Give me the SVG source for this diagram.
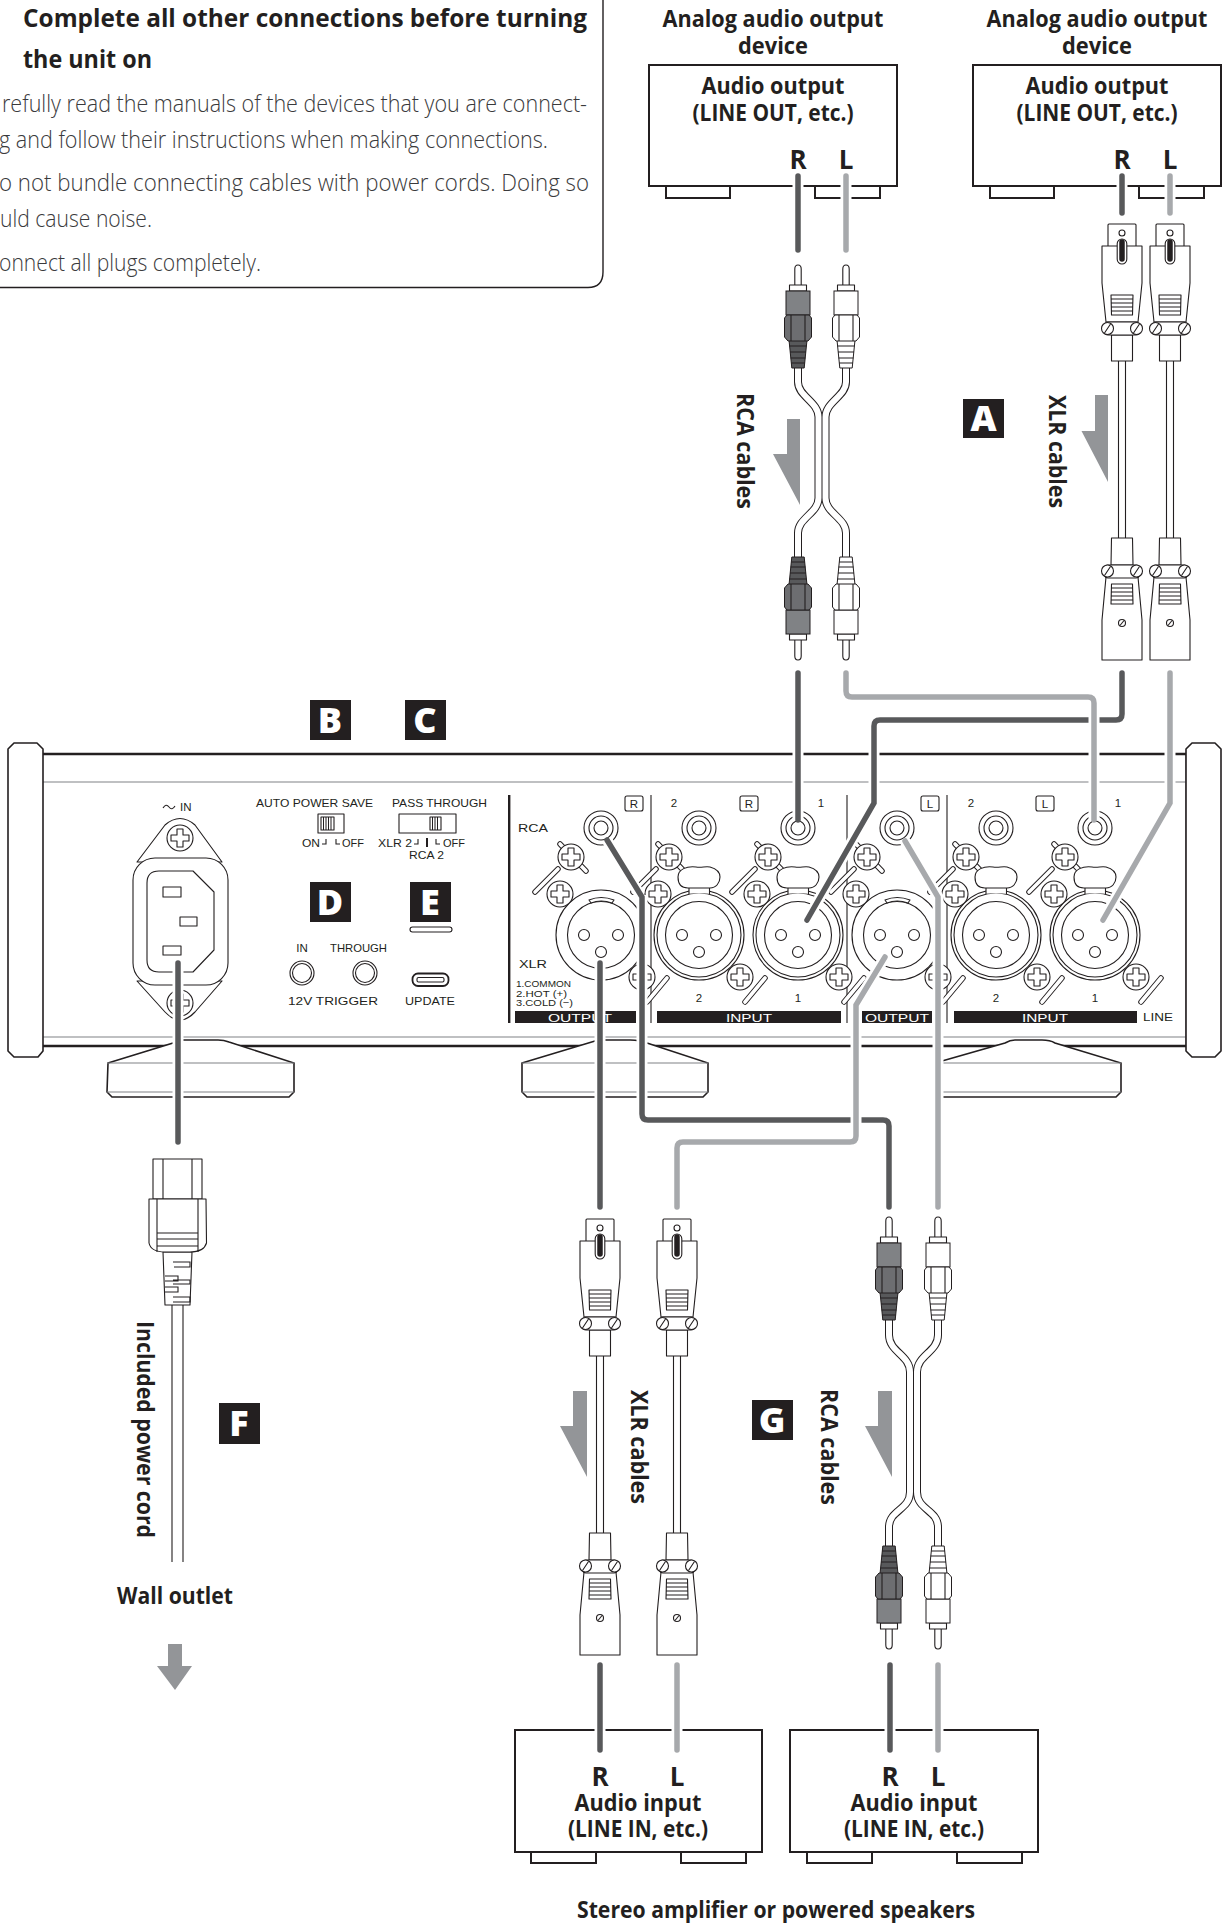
<svg xmlns="http://www.w3.org/2000/svg" xmlns:xlink="http://www.w3.org/1999/xlink" width="1223" height="1923" viewBox="0 0 1223 1923">
<style>
text{font-family:"Open Sans","Noto Sans","Liberation Sans",sans-serif;fill:#231f20}
.b{font-weight:700;font-size:23.500px}
.rl{font-weight:700;font-size:26px}
.c{text-anchor:middle}
.bd{font-weight:700;font-size:24.500px}
.n{font-weight:300;font-size:23px;fill:#3a3a3c}
.p{font-family:"Liberation Sans",Arial,sans-serif;font-size:11.500px}
.s{font-family:"Liberation Sans",Arial,sans-serif;font-size:9.500px}
.bdg{fill:#231f20}
.bl{font-weight:800;font-size:36px;fill:#fff;text-anchor:middle}
.ln{fill:#fff;stroke:#231f20;stroke-width:1.1;stroke-linejoin:round}
.nf{fill:none;stroke:#231f20;stroke-width:1.1}
.box{fill:#fff;stroke:#231f20;stroke-width:2}
.th{fill:none;stroke:#231f20;stroke-width:2.4}
.gr{fill:none;stroke:#808285;stroke-width:1.2}
.ar{fill:#939598}
.halo{fill:none;stroke:#fff;stroke-width:11}
.dk{fill:none;stroke:#58595b;stroke-width:5.5;stroke-linecap:round}
.lt{fill:none;stroke:#a7a9ac;stroke-width:5.5;stroke-linecap:round}
.co{fill:none;stroke:#231f20;stroke-width:8}
.ci{fill:none;stroke:#fff;stroke-width:6}
.rD{--b:#808285;--h:#6d6e71;--r:#58595b}
.rL{--b:#fff;--h:#fff;--r:#fff}
.vb{fill:var(--b);stroke:#231f20;stroke-width:1}
.vh{fill:var(--h);stroke:#231f20;stroke-width:1}
.vr{fill:var(--r);stroke:#231f20;stroke-width:1}
.co2{fill:none;stroke:#231f20;stroke-width:5.5;stroke-linecap:round}
.ci2{fill:none;stroke:#fff;stroke-width:3.6;stroke-linecap:round}
</style>
<defs>
<g id="screw"><circle r="13" class="ln"/><path class="ln" d="M-3,-9H3V-3H9V3H3V9H-3V3H-9V-3H-3Z"/></g>
<g id="jack"><circle r="17" class="ln"/><circle r="12" class="ln"/><circle r="7" class="ln"/></g>
<g id="xlrbase">
<line class="co2" x1="-66" y1="-43" x2="-43" y2="-66"/><line class="ci2" x1="-66" y1="-43" x2="-43" y2="-66"/>
<line class="co2" x1="46" y1="67" x2="66" y2="43"/><line class="ci2" x1="46" y1="67" x2="66" y2="43"/>
<line class="co2" x1="-41" y1="-91" x2="-15" y2="-64"/><line class="ci2" x1="-41" y1="-91" x2="-15" y2="-64"/>
</g>
<g id="xlrpins"><circle cx="-17" r="5.500" class="ln"/><circle cx="17" r="5.500" class="ln"/><circle cy="17" r="5.500" class="ln"/></g>
<g id="xlrOut">
<use href="#xlrbase"/>
<circle r="45" class="ln"/><circle r="33.500" class="ln"/>
<path class="ln" d="M-12,-35Q0,-40 13,-35L11,-32Q0,-36 -10,-32Z"/>
<use href="#xlrpins"/>
<use href="#screw" x="-30" y="-78"/><use href="#screw" x="-41" y="-41"/><use href="#screw" x="41" y="42"/>
</g>
<g id="xlrIn">
<use href="#xlrbase"/>
<circle r="45" class="ln"/><circle r="42" class="ln"/><circle r="33.500" class="ln"/>
<rect x="-10" y="-49" width="20.500" height="7.500" fill="#fff"/>
<path class="nf" d="M-10,-47V-41M10.500,-47V-41"/>
<path class="ln" d="M-11,-47C-19,-47 -21,-53 -21,-58C-21,-66 -12,-69 -3,-68C3,-67 6,-69 11,-68C18,-66 21,-62 21,-58C21,-52 17,-47 11,-47Z"/>
<use href="#xlrpins"/>
<use href="#screw" x="-30" y="-78"/><use href="#screw" x="-41" y="-41"/><use href="#screw" x="41" y="42"/>
</g>
<g id="rca">
<path class="ln" d="M-3.200,286V269Q-3.200,265 0,265Q3.200,265 3.200,269V286Z"/>
<rect class="ln" x="-8.500" y="285" width="17" height="6"/>
<rect class="vb" x="-12" y="291" width="24" height="24"/>
<path class="vr" d="M-9,340H9L6.200,368H-6.200Z"/>
<path class="nf" d="M-8.600,346H8.600M-8,352H8M-7.400,358H7.400M-6.800,363H6.800"/>
<path class="vh" d="M-11,315H11L13.500,318V337L10,341H-10L-13.500,337V318Z"/>
<path class="nf" d="M-7,315V341M7,315V341"/>
</g>
<g id="xlrT">
<rect class="ln" x="-14" y="224" width="28" height="23" rx="1"/>
<circle class="ln" cy="233" r="3"/>
<path class="ln" d="M-20,246H20V283L16,322H-16L-20,283Z"/>
<rect class="ln" x="-4.800" y="239" width="9.600" height="25" rx="4.800" style="fill:#fff"/>
<line x1="0" y1="242" x2="0" y2="259" stroke="#231f20" stroke-width="5.500" stroke-linecap="round"/>
<path class="ln" d="M-11,295H11L10.500,315H-10.500Z"/>
<path class="nf" d="M-11,299H11M-11,303H11M-11,307H11M-11,311H11"/>
<path class="ln" d="M-10.500,335L-10.500,361H10.500L10.500,335Z"/>
<rect class="ln" x="-17" y="322" width="34" height="13" rx="3"/>
<circle class="ln" cx="-14.500" cy="328.500" r="6"/><circle class="ln" cx="14.500" cy="328.500" r="6"/>
<path class="nf" d="M-17.500,333L-11.500,324M11.500,333L17.500,324"/>
<path class="nf" d="M-3.500,361V538M3.500,361V538"/>
<path class="ln" d="M-10.500,538H10.500L11,565H-11Z"/>
<path class="ln" d="M-16,577H16L20,620V660H-20V620Z"/>
<path class="ln" d="M-10.500,584H10.500L11,604H-11Z"/>
<path class="nf" d="M-11,588H11M-11,592H11M-11,596H11M-11,600H11"/>
<rect class="ln" x="-17" y="565" width="34" height="13" rx="3"/>
<circle class="ln" cx="-14.500" cy="571" r="6"/><circle class="ln" cx="14.500" cy="571" r="6"/>
<path class="nf" d="M-17.500,575.500L-11.500,566.500M11.500,575.500L17.500,566.500"/>
<circle class="ln" cy="623" r="3.500"/><path class="nf" d="M-2,625.500L2,620.500"/>
</g>
</defs>
<rect width="1223" height="1923" fill="#fff"/>

<g id="notice">
<path d="M-5,287.500H588Q603,287.500 603,272V-5" fill="none" stroke="#231f20" stroke-width="1.400"/>
<text class="bd" x="23" y="27" textLength="564" lengthAdjust="spacingAndGlyphs">Complete all other connections before turning</text>
<text class="bd" x="23" y="68" textLength="129" lengthAdjust="spacingAndGlyphs">the unit on</text>
<text class="n" x="2" y="112" textLength="585" lengthAdjust="spacingAndGlyphs">refully read the manuals of the devices that you are connect-</text>
<text class="n" x="-1" y="148" textLength="549" lengthAdjust="spacingAndGlyphs">g and follow their instructions when making connections.</text>
<text class="n" x="-1" y="191" textLength="590" lengthAdjust="spacingAndGlyphs">o not bundle connecting cables with power cords. Doing so</text>
<text class="n" x="0" y="227" textLength="152" lengthAdjust="spacingAndGlyphs">uld cause noise.</text>
<text class="n" x="-1" y="271" textLength="262" lengthAdjust="spacingAndGlyphs">onnect all plugs completely.</text>
</g>

<g id="output-device-1">
<rect class="box" x="666" y="186" width="64" height="12"/><rect class="box" x="815" y="186" width="65" height="12"/>
<rect class="box" x="649" y="65" width="248" height="121"/>
<text class="b c" x="773" y="27" textLength="221" lengthAdjust="spacingAndGlyphs">Analog audio output</text>
<text class="b c" x="773" y="54" textLength="70" lengthAdjust="spacingAndGlyphs">device</text>
<text class="b c" x="773" y="94" textLength="143" lengthAdjust="spacingAndGlyphs">Audio output</text>
<text class="b c" x="773" y="121" textLength="161" lengthAdjust="spacingAndGlyphs">(LINE OUT, etc.)</text>
<text class="rl c" x="798" y="169">R</text><text class="rl c" x="846" y="169">L</text>
</g>
<g id="output-device-2">
<rect class="box" x="990" y="186" width="64" height="12"/><rect class="box" x="1139" y="186" width="65" height="12"/>
<rect class="box" x="973" y="65" width="248" height="121"/>
<text class="b c" x="1097" y="27" textLength="221" lengthAdjust="spacingAndGlyphs">Analog audio output</text>
<text class="b c" x="1097" y="54" textLength="70" lengthAdjust="spacingAndGlyphs">device</text>
<text class="b c" x="1097" y="94" textLength="143" lengthAdjust="spacingAndGlyphs">Audio output</text>
<text class="b c" x="1097" y="121" textLength="161" lengthAdjust="spacingAndGlyphs">(LINE OUT, etc.)</text>
<text class="rl c" x="1122" y="169">R</text><text class="rl c" x="1170" y="169">L</text>
</g>

<g id="rca-cables-in">
<path class="co" d="M798,366V382C798,396 818.500,402 818.500,417V498C818.500,513 798,518 798,533V559"/>
<path class="co" d="M846,366V382C846,396 825.500,402 825.500,417V498C825.500,513 846,518 846,533V559"/>
<path class="ci" d="M798,366V382C798,396 818.500,402 818.500,417V498C818.500,513 798,518 798,533V559"/>
<path class="ci" d="M846,366V382C846,396 825.500,402 825.500,417V498C825.500,513 846,518 846,533V559"/>
<use href="#rca" class="rD" transform="translate(798,0)"/><use href="#rca" class="rL" transform="translate(846,0)"/>
<use href="#rca" class="rD" transform="translate(798,925) scale(1,-1)"/><use href="#rca" class="rL" transform="translate(846,925) scale(1,-1)"/>
<polygon class="ar" points="787,419 800,419 800,505 773,454 787,454"/>
<text class="b" transform="translate(737,393) rotate(90)" textLength="116" lengthAdjust="spacingAndGlyphs">RCA cables</text>
</g>
<g id="xlr-cables-in">
<use href="#xlrT" transform="translate(1122,0)"/><use href="#xlrT" transform="translate(1170,0)"/>
<polygon class="ar" points="1095,395 1108,395 1108,482 1081.500,431 1095,431"/>
<text class="b" transform="translate(1049,395) rotate(90)" textLength="113" lengthAdjust="spacingAndGlyphs">XLR cables</text>
</g>

<g id="badges">
<g id="badge-A"><rect class="bdg" x="963" y="399" width="41" height="39"/><text class="bl" x="983.500" y="431">A</text></g>
<g id="badge-B"><rect class="bdg" x="310" y="700" width="41" height="40"/><text class="bl" x="330" y="733">B</text></g>
<g id="badge-C"><rect class="bdg" x="405" y="700" width="41" height="40"/><text class="bl" x="425" y="733">C</text></g>
<g id="badge-D"><rect class="bdg" x="310" y="882" width="41" height="40"/><text class="bl" x="330" y="915">D</text></g>
<g id="badge-E"><rect class="bdg" x="410" y="882" width="41" height="40"/><text class="bl" x="430" y="915">E</text><rect class="ln" x="410" y="927" width="42" height="5" rx="2.500"/></g>
<g id="badge-F"><rect class="bdg" x="219" y="1403" width="41" height="41"/><text class="bl" x="239" y="1436">F</text></g>
<g id="badge-G"><rect class="bdg" x="752" y="1400" width="41" height="40"/><text class="bl" x="772" y="1433">G</text></g>
</g>

<g id="unit">
<path class="gr" d="M43,782H1186M43,1037H1186M1186,754V1046"/>
<path class="th" d="M43,754H1186M43,1046H1186"/>
<path class="ln" style="stroke-width:1.600" d="M14,743H37L43,749V1051L38,1057H14L8,1051V749Z"/>
<path class="ln" style="stroke-width:1.600" d="M1192,743H1215L1221,749V1051L1215,1057H1192L1186,1051V749Z"/>
<g id="feet">
<path class="box" style="stroke-width:1.600" d="M108,1063L173,1043Q178,1040 182,1040H218Q224,1040 229,1042L294,1063V1092L289,1097H112L107,1092Z"/>
<path class="box" style="stroke-width:1.600" d="M522,1063L595,1041Q600,1040 605,1040H630Q640,1040 647,1043L708,1063V1092L703,1097H527L522,1092Z"/>
<path class="box" style="stroke-width:1.600" d="M935,1063L1005,1043Q1010,1040 1015,1040H1042Q1050,1040 1055,1043L1121,1063V1092L1116,1097H940L935,1092Z"/>
<path class="gr" d="M107,1063H294M107,1092H294M522,1063H708M522,1092H708M935,1063H1121M935,1092H1121"/>
</g>
<g id="ac-inlet">
<path class="ln" d="M137,862L165,825Q180,812 195,825L222,862ZM137,981L165,1012Q180,1028 195,1012L222,981Z"/>
<use href="#screw" x="180" y="838"/>
<use href="#screw" x="180" y="1003"/>
<rect class="ln" x="133" y="858" width="95" height="127" rx="22"/>
<path class="ln" d="M159,871H193L214,892V950L193,972H159Q147,972 147,960V883Q147,871 159,871Z"/>
<rect class="ln" x="163" y="887" width="18" height="10"/><rect class="ln" x="180" y="917" width="17" height="9"/><rect class="ln" x="163" y="946" width="18" height="9"/>
<path class="nf" d="M163,808Q166,803 169,807T175,806"/>
<text class="p" x="180" y="811">IN</text>
</g>
<g id="panel-switches">
<text class="p" x="256" y="807" textLength="117" lengthAdjust="spacingAndGlyphs">AUTO POWER SAVE</text>
<text class="p" x="392" y="807" textLength="95" lengthAdjust="spacingAndGlyphs">PASS THROUGH</text>
<rect class="ln" x="318" y="814" width="26" height="19"/>
<rect class="ln" x="321" y="817" width="13" height="13"/><path d="M323.500,817V830M326,817V830M328.500,817V830M331,817V830" stroke="#231f20" fill="none" stroke-width="1"/>
<rect class="ln" x="399" y="814" width="57" height="19"/>
<rect class="ln" x="430" y="817" width="11" height="13"/><path d="M432.500,817V830M435,817V830M437.500,817V830" stroke="#231f20" fill="none" stroke-width="1"/>
<text class="p" x="302" y="847" textLength="18" lengthAdjust="spacingAndGlyphs">ON</text>
<text class="p" x="342" y="847" textLength="22" lengthAdjust="spacingAndGlyphs">OFF</text>
<path class="nf" d="M326,839V844H322M336,839V844H340"/>
<text class="p" x="378" y="847" textLength="34" lengthAdjust="spacingAndGlyphs">XLR 2</text>
<path class="nf" d="M418,839V844H414M436,839V844H440"/><rect x="426" y="838" width="2" height="9" fill="#231f20"/>
<text class="p" x="443" y="847" textLength="22" lengthAdjust="spacingAndGlyphs">OFF</text>
<text class="p" x="409" y="859" textLength="35" lengthAdjust="spacingAndGlyphs">RCA 2</text>
</g>
<g id="panel-trigger">
<text class="p c" x="302" y="952">IN</text>
<text class="p" x="330" y="952" textLength="57" lengthAdjust="spacingAndGlyphs">THROUGH</text>
<circle class="ln" cx="302" cy="973" r="12"/><circle class="ln" cx="302" cy="973" r="9.500"/>
<circle class="ln" cx="365" cy="973" r="12"/><circle class="ln" cx="365" cy="973" r="9.500"/>
<rect x="412.500" y="973.500" width="36" height="12.500" rx="5.500" fill="#fff" stroke="#231f20" stroke-width="1.800"/><rect class="ln" x="417" y="977.500" width="27" height="4.500" rx="1.500"/>
<text class="p" x="288" y="1005" textLength="90" lengthAdjust="spacingAndGlyphs">12V TRIGGER</text>
<text class="p" x="405" y="1005" textLength="50" lengthAdjust="spacingAndGlyphs">UPDATE</text>
</g>
<g id="panel-audio">
<rect x="508" y="795" width="2.400" height="228" fill="#231f20"/>
<path class="nf" d="M651,795V1023M847,795V1023M947,795V1023"/>
<text class="p" x="518" y="832" textLength="30" lengthAdjust="spacingAndGlyphs">RCA</text>
<text class="p" x="519" y="968" textLength="28" lengthAdjust="spacingAndGlyphs">XLR</text>
<text class="s" x="516" y="987" textLength="55" lengthAdjust="spacingAndGlyphs">1.COMMON</text>
<text class="s" x="516" y="996.500" textLength="51" lengthAdjust="spacingAndGlyphs">2.HOT (+)</text>
<text class="s" x="516" y="1006" textLength="57" lengthAdjust="spacingAndGlyphs">3.COLD (−)</text>
<use href="#jack" x="601" y="828"/><use href="#jack" x="699" y="828"/><use href="#jack" x="798" y="828"/>
<use href="#jack" x="897" y="828"/><use href="#jack" x="996" y="828"/><use href="#jack" x="1095" y="828"/>
<use href="#xlrOut" x="601" y="935"/><use href="#xlrIn" x="699" y="935"/><use href="#xlrIn" x="798" y="935"/>
<use href="#xlrOut" x="897" y="935"/><use href="#xlrIn" x="996" y="935"/><use href="#xlrIn" x="1095" y="935"/>
<rect class="ln" x="625" y="796" width="18" height="15" rx="2"/><text class="p c" x="634" y="808">R</text>
<rect class="ln" x="740" y="796" width="18" height="15" rx="2"/><text class="p c" x="749" y="808">R</text>
<rect class="ln" x="921" y="796" width="18" height="15" rx="2"/><text class="p c" x="930" y="808">L</text>
<rect class="ln" x="1036" y="796" width="18" height="15" rx="2"/><text class="p c" x="1045" y="808">L</text>
<text class="p c" x="674" y="807">2</text><text class="p c" x="821" y="807">1</text><text class="p c" x="971" y="807">2</text><text class="p c" x="1118" y="807">1</text>
<text class="p c" x="699" y="1002">2</text><text class="p c" x="798" y="1002">1</text><text class="p c" x="996" y="1002">2</text><text class="p c" x="1095" y="1002">1</text>
<rect class="bdg" x="515" y="1011" width="121" height="12"/><text class="p c" style="fill:#fff" x="580" y="1021.500" textLength="64" lengthAdjust="spacingAndGlyphs">OUTPUT</text>
<rect class="bdg" x="657" y="1011" width="184" height="12"/><text class="p c" style="fill:#fff" x="749" y="1021.500" textLength="46" lengthAdjust="spacingAndGlyphs">INPUT</text>
<rect class="bdg" x="862" y="1011" width="70" height="12"/><text class="p c" style="fill:#fff" x="897" y="1021.500" textLength="64" lengthAdjust="spacingAndGlyphs">OUTPUT</text>
<rect class="bdg" x="954" y="1011" width="183" height="12"/><text class="p c" style="fill:#fff" x="1045" y="1021.500" textLength="46" lengthAdjust="spacingAndGlyphs">INPUT</text>
<text class="p" x="1143" y="1021" textLength="30" lengthAdjust="spacingAndGlyphs">LINE</text>
</g>
</g>

<g id="power-cord">
<rect class="ln" x="153" y="1159" width="49" height="40"/><path class="nf" d="M163,1159V1199M192,1159V1199"/>
<path class="nf" d="M172,1305V1562M183,1305V1562"/>
<path class="ln" d="M163,1252H192L190,1305H165Z"/>
<path class="nf" d="M173,1262H190V1267H174M165,1276H178V1281H165M173,1280H190V1284H173M165,1287H178V1292H165M173,1297H190V1302H173"/>
<path class="ln" d="M149,1199H206L206.500,1243Q204,1252 190,1252H165Q151,1252 149,1243Z"/>
<path class="nf" d="M157,1199V1252M198,1199V1252M157,1233H198M157,1239H198M157,1246H198"/>
<text class="b" transform="translate(137,1321) rotate(90)" textLength="217" lengthAdjust="spacingAndGlyphs">Included power cord</text>
<text class="b c" x="175" y="1604" textLength="116" lengthAdjust="spacingAndGlyphs">Wall outlet</text>
<polygon class="ar" points="168,1644 182,1644 182,1666 192,1666 175,1690 157,1666 168,1666"/>
</g>

<g id="xlr-cables-out">
<use href="#xlrT" transform="translate(600,995)"/><use href="#xlrT" transform="translate(677,995)"/>
<polygon class="ar" points="573,1391 587,1391 587,1477 560,1426 573,1426"/>
<text class="b" transform="translate(631,1390) rotate(90)" textLength="114" lengthAdjust="spacingAndGlyphs">XLR cables</text>
</g>
<g id="rca-cables-out">
<path class="co" d="M889,1317V1335C889,1352 910,1355 910,1372V1492C910,1510 889,1510 889,1527V1548"/>
<path class="co" d="M938,1317V1335C938,1352 917,1355 917,1372V1492C917,1510 938,1510 938,1527V1548"/>
<path class="ci" d="M889,1317V1335C889,1352 910,1355 910,1372V1492C910,1510 889,1510 889,1527V1548"/>
<path class="ci" d="M938,1317V1335C938,1352 917,1355 917,1372V1492C917,1510 938,1510 938,1527V1548"/>
<use href="#rca" class="rD" transform="translate(889,952)"/><use href="#rca" class="rL" transform="translate(938,952)"/>
<use href="#rca" class="rD" transform="translate(889,1914) scale(1,-1)"/><use href="#rca" class="rL" transform="translate(938,1914) scale(1,-1)"/>
<polygon class="ar" points="878,1391 892,1391 892,1477 865,1426 878,1426"/>
<text class="b" transform="translate(821,1389) rotate(90)" textLength="116" lengthAdjust="spacingAndGlyphs">RCA cables</text>
</g>

<g id="input-device-1">
<rect class="box" x="531" y="1852" width="65" height="11"/><rect class="box" x="681" y="1852" width="65" height="11"/>
<rect class="box" x="515" y="1730" width="247" height="122"/>
<text class="rl c" x="600" y="1786">R</text><text class="rl c" x="677" y="1786">L</text>
<text class="b c" x="638" y="1811" textLength="127" lengthAdjust="spacingAndGlyphs">Audio input</text>
<text class="b c" x="638" y="1837" textLength="140" lengthAdjust="spacingAndGlyphs">(LINE IN, etc.)</text>
</g>
<g id="input-device-2">
<rect class="box" x="807" y="1852" width="65" height="11"/><rect class="box" x="957" y="1852" width="65" height="11"/>
<rect class="box" x="790" y="1730" width="248" height="122"/>
<text class="rl c" x="890" y="1786">R</text><text class="rl c" x="938" y="1786">L</text>
<text class="b c" x="914" y="1811" textLength="127" lengthAdjust="spacingAndGlyphs">Audio input</text>
<text class="b c" x="914" y="1837" textLength="140" lengthAdjust="spacingAndGlyphs">(LINE IN, etc.)</text>
</g>
<text class="b c" x="776" y="1918" textLength="398" lengthAdjust="spacingAndGlyphs">Stereo amplifier or powered speakers</text>

<g id="connectors">
<path class="halo" d="M798,176V250M1122,176V213M178,963V1142M600,963V1207M640,895L607,840M642,895V1114Q642,1120 648,1120H883Q889,1120 889,1126V1207"/>
<path class="dk" d="M798,176V250M1122,176V213M178,963V1142M600,963V1207"/>
<path class="halo" d="M798,673V820M874,803V726Q874,720 880,720H1116Q1122,720 1122,714V673M874,803L807,920"/>
<path class="dk" d="M798,673V820"/>
<path class="dk" d="M1122,673V714Q1122,720 1116,720H880Q874,720 874,726V803L807,920"/>
<path class="dk" d="M607,840L642,897V1114Q642,1120 648,1120H883Q889,1120 889,1126V1207"/>
<path class="halo" d="M846,176V250M1170,176V213M846,673V691Q846,697 852,697H1088Q1094,697 1094,703V820M1170,673V803L1103,920M885,957L856,1005V1136Q856,1142 850,1142H683Q677,1142 677,1148V1207M905,841L938,897V1207M600,1665V1750M677,1665V1750M890,1665V1750M938,1665V1750"/>
<path class="dk" d="M600,1665V1750M890,1665V1750"/>
<path class="lt" d="M846,176V250M1170,176V213"/>
<path class="lt" d="M846,673V691Q846,697 852,697H1088Q1094,697 1094,703V820"/>
<path class="lt" d="M1170,673V803L1103,920"/>
<path class="lt" d="M885,957L856,1005V1136Q856,1142 850,1142H683Q677,1142 677,1148V1207"/>
<path class="lt" d="M905,841L938,897V1207"/>
<path class="lt" d="M677,1665V1750M938,1665V1750"/>
</g>
</svg>
